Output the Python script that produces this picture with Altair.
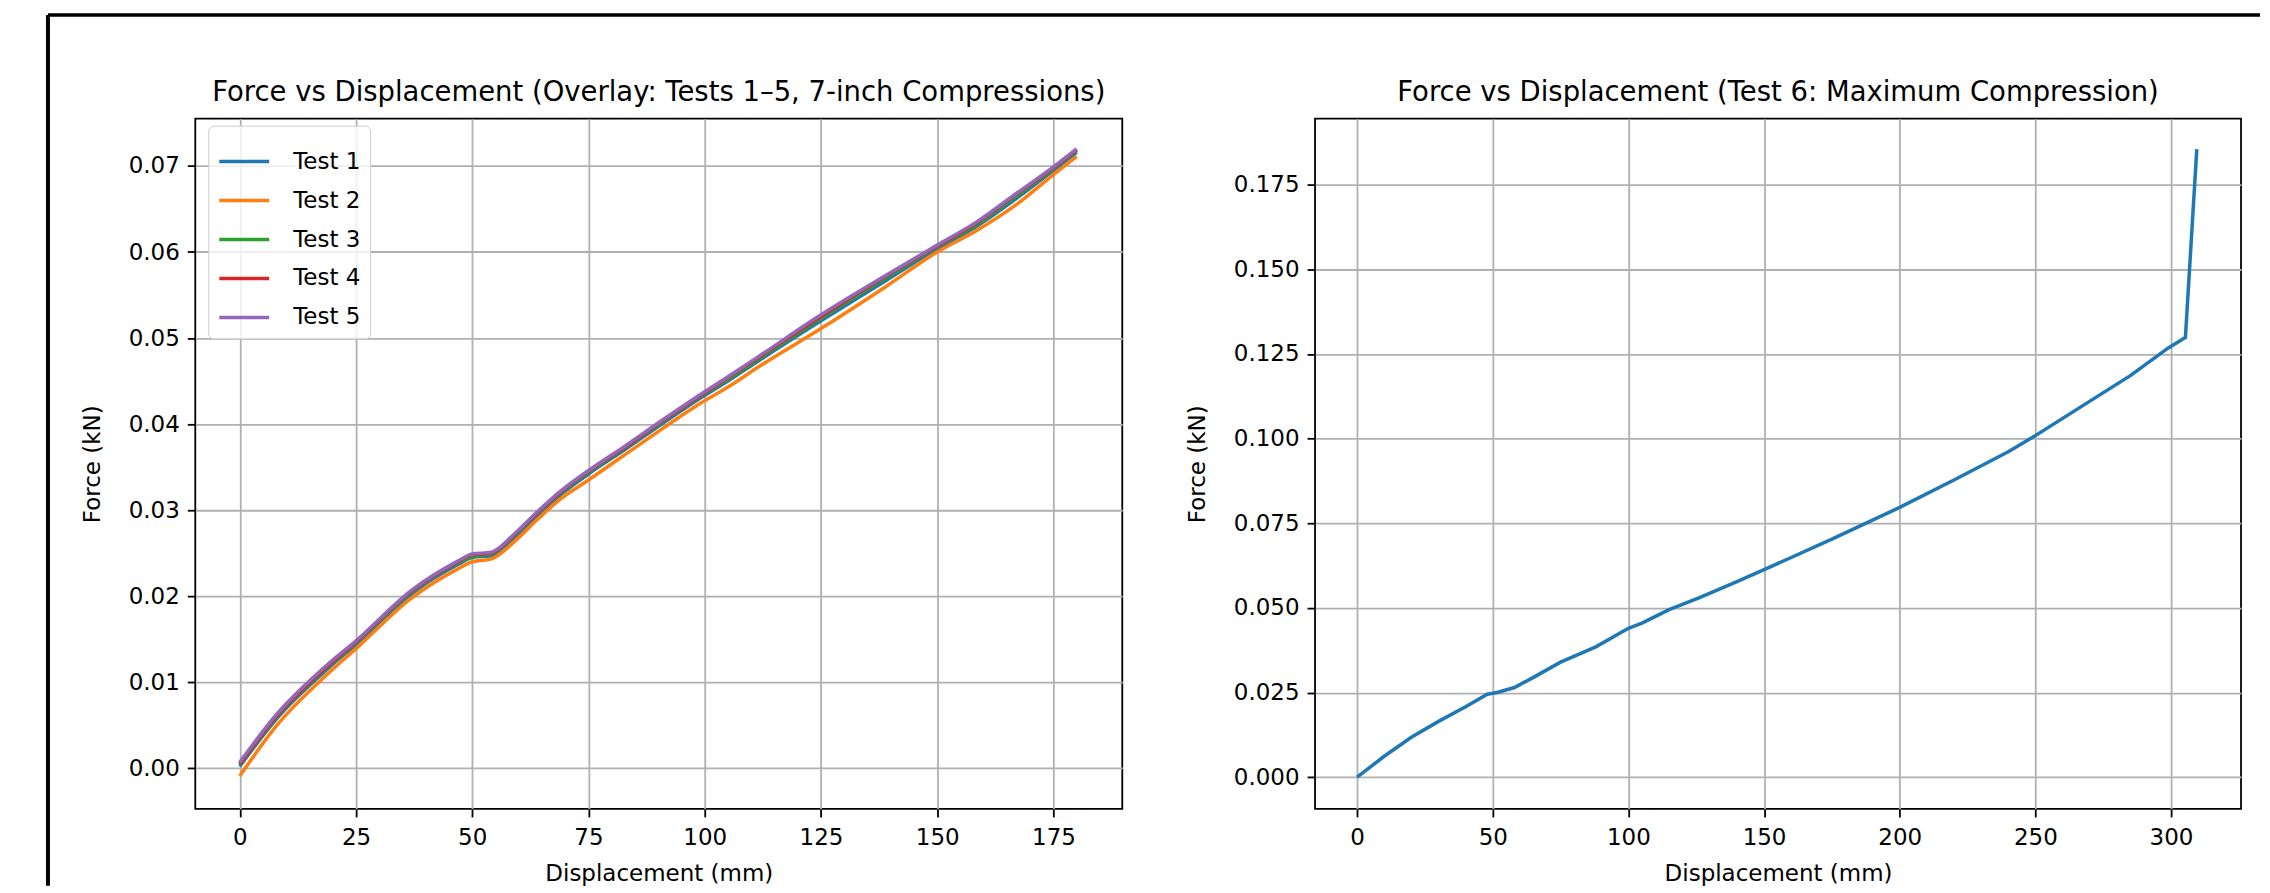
import altair as alt
import pandas as pd

# ---------------- data ----------------
tests = ["Test 1", "Test 2", "Test 3", "Test 4", "Test 5"]
colors = ["#1f77b4", "#ff7f0e", "#2ca02c", "#d62728", "#9467bd"]

disp_1to5 = [0, 8, 19, 25, 37, 47, 50, 54, 59, 64, 69, 75, 83, 91, 99, 105,
             112, 125, 139, 150, 158.5, 167, 175, 180]
force_t1 = [0.0002, 0.0058, 0.0116, 0.0144, 0.0203, 0.0237, 0.0245, 0.0247, 0.0268, 0.0294, 0.0318, 0.0342,
            0.0371, 0.0401, 0.0430, 0.0450, 0.0475, 0.0520, 0.0567, 0.0604, 0.0630, 0.0662, 0.0695, 0.0716]
force_t2 = [-0.0009, 0.0050, 0.0110, 0.0139, 0.0198, 0.0232, 0.0240, 0.0243, 0.0263, 0.0289, 0.0313, 0.0335,
            0.0365, 0.0395, 0.0424, 0.0443, 0.0468, 0.0511, 0.0560, 0.0600, 0.0625, 0.0655, 0.0690, 0.0711]
force_t3 = [0.0004, 0.0060, 0.0118, 0.0146, 0.0205, 0.0239, 0.0246, 0.0249, 0.0270, 0.0296, 0.0320, 0.0344,
            0.0373, 0.0403, 0.0432, 0.0452, 0.0477, 0.0523, 0.0570, 0.0606, 0.0632, 0.0665, 0.0697, 0.0718]
force_t4 = [0.0005, 0.0061, 0.0119, 0.0147, 0.0206, 0.0240, 0.0248, 0.0250, 0.0271, 0.0297, 0.0321, 0.0345,
            0.0374, 0.0404, 0.0433, 0.0454, 0.0479, 0.0525, 0.0572, 0.0607, 0.0634, 0.0667, 0.0698, 0.0719]
force_t5 = [0.0007, 0.0063, 0.0121, 0.0148, 0.0207, 0.0241, 0.0249, 0.0251, 0.0272, 0.0298, 0.0322, 0.0346,
            0.0375, 0.0405, 0.0434, 0.0455, 0.0480, 0.0527, 0.0573, 0.0608, 0.0635, 0.0668, 0.0699, 0.0720]

disp_t6 = [0, 10, 20, 30, 40, 48, 52, 58, 65, 75, 88, 100, 105, 115, 126, 140, 150, 160, 175,
           200, 220, 240, 249, 265, 285, 299, 305.3, 309.5]
force_t6 = [0, 0.0062, 0.0118, 0.0165, 0.0208, 0.0245, 0.0251, 0.0265, 0.0295, 0.0340, 0.0385, 0.0440,
            0.0455, 0.0495, 0.0530, 0.0578, 0.0613, 0.0649, 0.0703, 0.0797, 0.0878, 0.0961, 0.1004,
            0.1085, 0.1186, 0.1268, 0.1299, 0.1855]

x_ticks_left = [0, 25, 50, 75, 100, 125, 150, 175]
y_ticks_left = [0.00, 0.01, 0.02, 0.03, 0.04, 0.05, 0.06, 0.07]
x_ticks_right = [0, 50, 100, 150, 200, 250, 300]
y_ticks_right = [0.000, 0.025, 0.050, 0.075, 0.100, 0.125, 0.150, 0.175]

title_left = "Force vs Displacement (Overlay: Tests 1–5, 7-inch Compressions)"
title_right = "Force vs Displacement (Test 6: Maximum Compression)"
x_title = "Displacement (mm)"
y_title = "Force (kN)"

# ---------------- tables ----------------
rows = []
for name, ys in zip(tests, [force_t1, force_t2, force_t3, force_t4, force_t5]):
    for order, (x, y) in enumerate(zip(disp_1to5, ys)):
        rows.append({"test": name, "disp": x, "force": y, "order": order})
df_left = pd.DataFrame(rows)
df_right = pd.DataFrame({"disp": disp_t6, "force": force_t6, "order": list(range(len(disp_t6)))})
df_one = pd.DataFrame({"k": [0]})

FONT = "DejaVu Sans"
W, H = 928, 691

x_axis_common = dict(labelPadding=10, titlePadding=13, grid=True, domain=False,
                     labelFlush=False, labelOverlap=False)
y_axis_common = dict(labelPadding=8, titlePadding=24, grid=True, domain=False, labelOverlap=False)

title_style = dict(font=FONT, fontSize=27.5, fontWeight="normal", color="black",
                   anchor="middle", offset=12)

# ---------------- left panel ----------------
left = alt.Chart(df_left).mark_line(strokeWidth=3.5, interpolate="monotone").encode(
    x=alt.X("disp:Q", title=x_title,
            scale=alt.Scale(domain=[-9.56, 189.8], nice=False, zero=False),
            axis=alt.Axis(values=x_ticks_left, format="d", **x_axis_common)),
    y=alt.Y("force:Q", title=y_title,
            scale=alt.Scale(domain=[-0.00473, 0.0755], nice=False, zero=False),
            axis=alt.Axis(values=y_ticks_left, format=".2f", **y_axis_common)),
    color=alt.Color("test:N", scale=alt.Scale(domain=tests, range=colors),
                    sort=tests,
                    legend=alt.Legend(title=None, orient="none", legendX=13, legendY=111,
                                      symbolType="stroke", symbolSize=2500, symbolStrokeWidth=3.5,
                                      labelFont=FONT, labelFontSize=23, labelColor="black",
                                      labelOffset=22, padding=9, rowPadding=0,
                                      fillColor="rgba(255,255,255,0.8)", strokeColor="#cccccc",
                                      cornerRadius=5)),
    order=alt.Order("order:Q"),
    detail="test:N",
).properties(width=W, height=H, title=alt.TitleParams(title_left, **title_style))

# ---------------- right panel ----------------
right = alt.Chart(df_right).mark_line(strokeWidth=3.5, color="#1f77b4").encode(
    x=alt.X("disp:Q", title=x_title,
            scale=alt.Scale(domain=[-15.5, 325.8], nice=False, zero=False),
            axis=alt.Axis(values=x_ticks_right, format="d", **x_axis_common)),
    y=alt.Y("force:Q", title=y_title,
            scale=alt.Scale(domain=[-0.00935, 0.1945], nice=False, zero=False),
            axis=alt.Axis(values=y_ticks_right, format=".3f", **y_axis_common)),
    order=alt.Order("order:Q"),
).properties(width=927, height=H, title=alt.TitleParams(title_right, **title_style))

# ---------------- picture frame (black border of the screenshot) ----------------
frame_v = alt.Chart(df_one).mark_rule(color="black", strokeWidth=4).encode(
    x=alt.value(-147.5), y=alt.value(0.3), y2=alt.value(872))
frame_h = alt.Chart(df_one).mark_rule(color="black", strokeWidth=3.5).encode(
    x=alt.value(-147.5), x2=alt.value(2067), y=alt.value(0.3))
frame = alt.layer(frame_v, frame_h).properties(
    width=1, height=1, view=alt.ViewBackground(stroke=None))

panels = alt.hconcat(left, right, spacing=193, bounds="flush")

chart = alt.vconcat(frame, panels, spacing=103, bounds="flush").properties(
    padding={"left": 37.5, "top": 4.3, "right": 0, "bottom": 0},
).configure_view(
    stroke="black", strokeWidth=1.8
).configure_axis(
    labelFont=FONT, labelFontSize=23, labelColor="black",
    titleFont=FONT, titleFontSize=23, titleFontWeight="normal", titleColor="black",
    tickColor="black", tickSize=8, tickWidth=1.8,
    gridColor="#b0b0b0", gridWidth=1.8,
)

chart.save("out.html", embed_options={"renderer": "svg", "actions": False})
